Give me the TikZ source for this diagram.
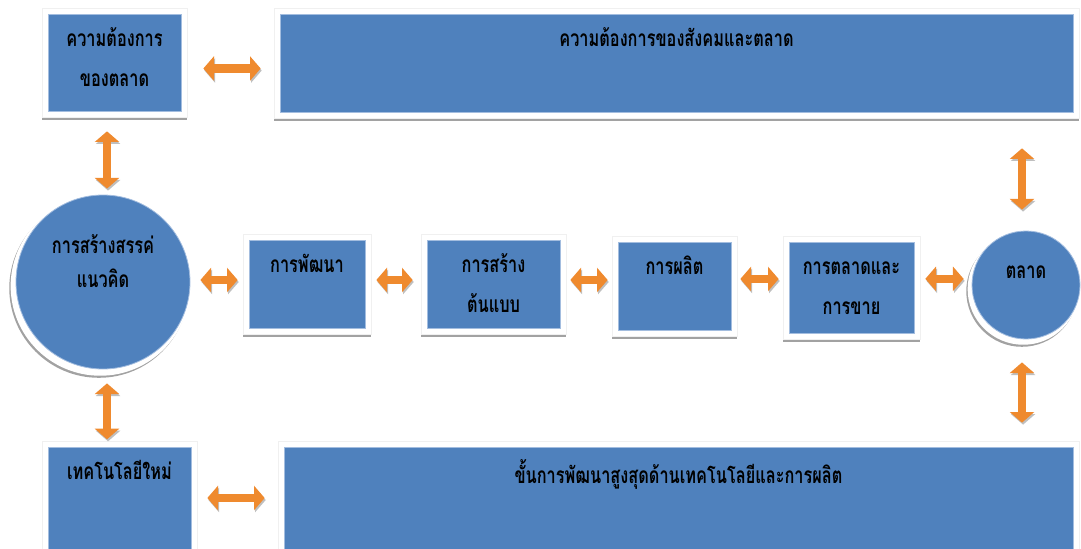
\documentclass[tikz,border=0pt]{standalone}
\usepackage{fontspec}
\newfontfamily\thaifont[Script=Thai,FakeStretch=0.72]{Loma}
\usetikzlibrary{arrows.meta,shadows}
\definecolor{boxblue}{HTML}{4F81BD}
\definecolor{boxedge}{HTML}{A3BDDF}
\definecolor{arroworange}{HTML}{EF8A2E}
\definecolor{rimgray}{HTML}{A2A2A2}
\newdimen\pxu \pxu=0.75pt
\newcommand\tstr{\rule{0pt}{15pt}}
\tikzset{
  panel/.style={rectangle, draw=gray!12, line width=0.5pt, fill=white, inner sep=0pt,
    drop shadow={shadow xshift=0pt, shadow yshift=-2.5pt, fill=rimgray, opacity=1},
    path picture={\fill[boxblue, draw=boxedge, line width=0.6pt]
      ([shift={(4.5pt,-4.5pt)}]path picture bounding box.north west) rectangle
      ([shift={(-4.5pt,4.5pt)}]path picture bounding box.south east);}},
  orb/.style={circle, fill=boxblue, draw=boxedge, line width=0.6pt, inner sep=0pt,
    drop shadow={shadow xshift=-3pt, shadow yshift=-4.5pt, shadow scale=1.03, fill=rimgray, opacity=1},
    drop shadow={shadow xshift=-2pt, shadow yshift=-3pt, shadow scale=1.03, fill=white, opacity=1}},
  tlab/.style={font=\thaifont\bfseries\fontsize{17}{30}\selectfont, align=center,
    anchor=north, inner sep=0pt, text=black, yshift=-14.25pt},
  dblarrow/.style={draw=arroworange, line width=6.5pt,
    {Triangle[length=8pt,width=18pt]}-{Triangle[length=8pt,width=18pt]},
    preaction={draw=gray!50, transform canvas={xshift=0.8pt,yshift=-1.5pt}}}
}
\begin{document}
\begin{tikzpicture}[x=0.75pt,y=-0.75pt]
\useasboundingbox (0,0) rectangle (1081,549);

% top row
\node[panel, minimum width=145\pxu, minimum height=109\pxu,
  label={[tlab]north:{\tstr ความต้องการ\\ของตลาด}}] (needL) at (114.5,62.5) {};
\node[panel, minimum width=805\pxu, minimum height=110\pxu,
  label={[tlab]north:{\tstr ความต้องการของสังคมและตลาด}}] (needSoc) at (676.5,63) {};

% middle row
\node[orb, minimum size=174\pxu,
  label={[tlab, yshift=-15pt]north:{\tstr การสร้างสรรค่\\[-5pt]แนวคิด}}] (idea) at (103,282) {};
\node[panel, minimum width=128\pxu, minimum height=100\pxu,
  label={[tlab]north:{\tstr การพัฒนา}}] (dev) at (307,284) {};
\node[panel, minimum width=145\pxu, minimum height=100\pxu,
  label={[tlab]north:{\tstr การสร้าง\\ต้นแบบ}}] (proto) at (493.5,284) {};
\node[panel, minimum width=125\pxu, minimum height=100\pxu,
  label={[tlab]north:{\tstr การผลิต}}] (prod) at (674.5,286) {};
\node[panel, minimum width=137\pxu, minimum height=103\pxu,
  label={[tlab]north:{\tstr การตลาดและ\\การขาย}}] (mkt) at (851.5,287.5) {};
\node[orb, minimum size=108\pxu,
  label={[tlab, yshift=-6.75pt]north:{\tstr ตลาด}}] (market) at (1026,285) {};

% bottom row
\node[panel, minimum width=155\pxu, minimum height=124\pxu,
  label={[tlab]north:{\tstr เทคโนโลยีใหม่}}] (tech) at (119.5,503) {};
\node[panel, minimum width=801\pxu, minimum height=124\pxu,
  label={[tlab]north:{\tstr ขั้นการพัฒนาสูงสุดด้านเทคโนโลยีและการผลิต}}] (peak) at (678.5,503) {};

% connectors
\draw[dblarrow, shorten <=12pt, shorten >=9.75pt]
  ([yshift=-4.5pt]needL.east) -- ([yshift=-4.5pt]needL.east -| needSoc.west);
\draw[dblarrow, shorten <=10.5pt, shorten >=4.5pt]
  ([xshift=3pt]idea.north |- needL.south) -- ([xshift=3pt]idea.north);
\draw[dblarrow, shorten <=10.5pt, shorten >=1pt]
  ([xshift=3pt]idea.south) -- ([xshift=3pt]idea.south |- tech.north);
\draw[dblarrow, shorten <=7.5pt, shorten >=9.75pt]
  ([yshift=3.75pt]tech.east) -- ([yshift=3.75pt]tech.east -| peak.west);
\draw[dblarrow, shorten <=7.5pt, shorten >=3.75pt]
  ([yshift=1.5pt]idea.east) -- ([yshift=1.5pt]idea.east -| dev.west);
\draw[dblarrow, shorten <=3.75pt, shorten >=6pt]
  ([yshift=3pt]dev.east) -- ([yshift=3pt]dev.east -| proto.west);
\draw[dblarrow, shorten <=3pt, shorten >=3pt]
  ([yshift=3pt]proto.east) -- ([yshift=3pt]proto.east -| prod.west);
\draw[dblarrow, shorten <=2.25pt, shorten >=3pt]
  ([yshift=5.25pt]prod.east) -- ([yshift=5.25pt]prod.east -| mkt.west);
\draw[dblarrow, shorten <=3.75pt, shorten >=6pt]
  ([yshift=6.5pt]mkt.east) -- ([yshift=6.5pt]mkt.east -| market.west);
\draw[dblarrow, shorten <=22.5pt, shorten >=15.75pt]
  ([xshift=-3pt]market.north |- needSoc.south) -- ([xshift=-3pt]market.north);
\draw[dblarrow, shorten <=17.25pt, shorten >=13.5pt]
  ([xshift=-3pt]market.south) -- ([xshift=-3pt]market.south |- peak.north);
\end{tikzpicture}
\end{document}
